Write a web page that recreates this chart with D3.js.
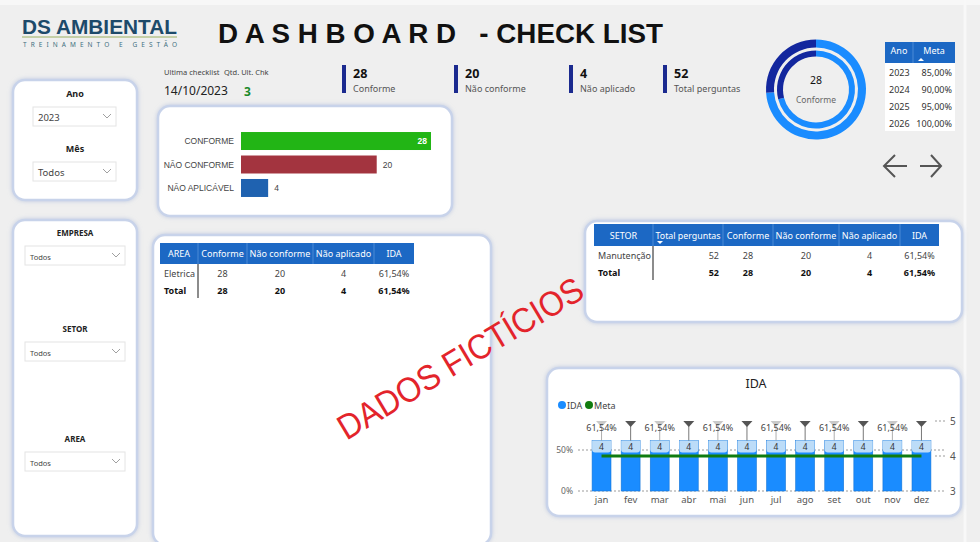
<!DOCTYPE html>
<html><head><meta charset="utf-8">
<script src="https://cdn.jsdelivr.net/npm/d3@7"></script>
<style>
html,body{margin:0;padding:0;background:#efefef;}
svg{display:block;font-family:"Noto Sans","Open Sans",sans-serif;}
</style></head>
<body><svg id="c" width="980" height="542"></svg>
<script>
// ---------- DATA ----------
const kpiLabels = ["Conforme", "Não conforme", "Não aplicado", "Total perguntas"];
const kpiValues = [28, 20, 4, 52];
const lastChecklistDate = "14/10/2023";
const lastChecklistQty = 3;

const barCategories = ["CONFORME", "NÃO CONFORME", "NÃO APLICÁVEL"];
const barValues = [28, 20, 4];

const donutCenterValue = 28;
const donutCenterLabel = "Conforme";
const donutOuterValues = [74, 26];
const donutInnerValues = [71, 29];

const metaYears = ["2023", "2024", "2025", "2026"];
const metaGoals = ["85,00%", "90,00%", "95,00%", "100,00%"];

const areaHeaders = ["AREA", "Conforme", "Não conforme", "Não aplicado", "IDA"];
const areaRows = [["Eletrica", "28", "20", "4", "61,54%"], ["Total", "28", "20", "4", "61,54%"]];

const setorHeaders = ["SETOR", "Total perguntas", "Conforme", "Não conforme", "Não aplicado", "IDA"];
const setorRows = [["Manutenção", "52", "28", "20", "4", "61,54%"], ["Total", "52", "28", "20", "4", "61,54%"]];

const months = ["jan", "fev", "mar", "abr", "mai", "jun", "jul", "ago", "set", "out", "nov", "dez"];
const idaValues = [0.6154, 0.6154, 0.6154, 0.6154, 0.6154, 0.6154, 0.6154, 0.6154, 0.6154, 0.6154, 0.6154, 0.6154];
const qtdValues = [4, 4, 4, 4, 4, 4, 4, 4, 4, 4, 4, 4];
const metaSeries = [4, 4, 4, 4, 4, 4, 4, 4, 4, 4, 4, 4];
const markerValues = [5, 5, 5, 5, 5, 5, 5, 5, 5, 5, 5, 5];
const leftTicks = [0, 0.5];
const rightTicks = [3, 4, 5];

const slicers1 = [["Ano", "2023"], ["Mês", "Todos"]];
const slicers2 = [["EMPRESA", "Todos"], ["SETOR", "Todos"], ["AREA", "Todos"]];

// ---------- DRAW ----------
const svg = d3.select("#c");
const defs = svg.append("defs");
const f = defs.append("filter").attr("id", "sh").attr("x", "-10%").attr("y", "-10%").attr("width", "120%").attr("height", "120%");
f.append("feDropShadow").attr("dx", 0).attr("dy", 0).attr("stdDeviation", 2).attr("flood-color", "#9fb0d6").attr("flood-opacity", 0.6);

svg.append("rect").attr("width", 980).attr("height", 542).attr("fill", "#efefef");
svg.append("rect").attr("width", 980).attr("height", 5).attr("fill", "#f7f7f7");
svg.append("line").attr("x1", 965).attr("x2", 965).attr("y1", 0).attr("y2", 542).attr("stroke", "#f8f8f8").attr("stroke-width", 3);

function panel(x, y, w, h) {
  svg.append("rect").attr("x", x).attr("y", y).attr("width", w).attr("height", h)
    .attr("rx", 12).attr("fill", "#fff").attr("stroke", "#c8d3ea").attr("stroke-width", 2.5)
    .attr("filter", "url(#sh)");
}
function fit(sel, maxW) {
  const n = sel.node();
  if (n.getComputedTextLength() > maxW) sel.attr("textLength", maxW).attr("lengthAdjust", "spacingAndGlyphs");
  return sel;
}

// Logo
svg.append("text").attr("x", 22).attr("y", 34).attr("font-family", "Liberation Sans, Arial")
  .attr("font-weight", "bold").attr("font-size", 21).attr("fill", "#1d4a6a")
  .attr("textLength", 155).attr("lengthAdjust", "spacingAndGlyphs").text("DS AMBIENTAL");
svg.append("line").attr("x1", 22).attr("x2", 177).attr("y1", 37).attr("y2", 37).attr("stroke", "#9bb060").attr("stroke-width", 1);
svg.append("text").attr("x", 23).attr("y", 46.5).attr("font-size", 6.5).attr("fill", "#3f6f80")
  .attr("textLength", 154).attr("lengthAdjust", "spacing").text("TREINAMENTO E GESTÃO");

// Title
svg.append("text").attr("x", 218).attr("y", 43).attr("font-family", "Liberation Sans, Arial")
  .attr("font-weight", "bold").attr("font-size", 27).attr("fill", "#111")
  .attr("textLength", 445).attr("lengthAdjust", "spacingAndGlyphs").attr("xml:space", "preserve")
  .text("D A S H B O A R D   - CHECK LIST");

// Last checklist
svg.append("text").attr("x", 164).attr("y", 75).attr("font-size", 7.5).attr("fill", "#444").text("Ultima checklist");
svg.append("text").attr("x", 224).attr("y", 75).attr("font-size", 7.5).attr("fill", "#444").text("Qtd. Ult. Chk");
svg.append("text").attr("x", 164).attr("y", 95).attr("font-size", 12).attr("fill", "#222").text(lastChecklistDate);
svg.append("text").attr("x", 244).attr("y", 96).attr("font-size", 12).attr("font-weight", "bold").attr("fill", "#1a8a2a").text(lastChecklistQty);

// KPI cards
const kpiX = [342, 454, 569, 663];
kpiLabels.forEach((l, i) => {
  svg.append("rect").attr("x", kpiX[i]).attr("y", 65).attr("width", 4).attr("height", 28).attr("fill", "#1b2a8f");
  svg.append("text").attr("x", kpiX[i] + 11).attr("y", 78).attr("font-size", 12.5).attr("font-weight", "bold").attr("fill", "#111").text(kpiValues[i]);
  svg.append("text").attr("x", kpiX[i] + 11).attr("y", 92).attr("font-size", 9).attr("fill", "#555").text(l);
});

// Donut
const dg = svg.append("g").attr("transform", "translate(816,89.5)");
const pie = d3.pie().sort(null);
const donutColors = ["#1a8cff", "#13279e"];
dg.selectAll(".o").data(pie(donutOuterValues)).join("path")
  .attr("d", d3.arc().innerRadius(42).outerRadius(50)).attr("fill", (d, i) => donutColors[i]);
dg.selectAll(".in").data(pie(donutInnerValues)).join("path")
  .attr("d", d3.arc().innerRadius(33).outerRadius(39)).attr("fill", (d, i) => donutColors[i]);
dg.append("text").attr("y", -6).attr("text-anchor", "middle").attr("font-size", 10.5).attr("fill", "#111").text(donutCenterValue);
dg.append("text").attr("y", 13).attr("text-anchor", "middle").attr("font-size", 8.5).attr("fill", "#666").text(donutCenterLabel);

// Meta table
svg.append("rect").attr("x", 885).attr("y", 63).attr("width", 70).attr("height", 68).attr("fill", "#fff");
svg.append("rect").attr("x", 885).attr("y", 42).attr("width", 70).attr("height", 21).attr("fill", "#1c68c4");
svg.append("line").attr("x1", 913).attr("x2", 913).attr("y1", 42).attr("y2", 63).attr("stroke", "#4a8ad6");
svg.append("text").attr("x", 899).attr("y", 54).attr("text-anchor", "middle").attr("font-size", 9).attr("fill", "#fff").text("Ano");
svg.append("text").attr("x", 934).attr("y", 54).attr("text-anchor", "middle").attr("font-size", 9).attr("fill", "#fff").text("Meta");
svg.append("path").attr("d", "M918,61 L921,58 L924,61 Z").attr("fill", "#fff");
metaYears.forEach((y, i) => {
  svg.append("text").attr("x", 889).attr("y", 76 + i * 17).attr("font-size", 9).attr("fill", "#333").text(y);
  svg.append("text").attr("x", 952).attr("y", 76 + i * 17).attr("text-anchor", "end").attr("font-size", 9).attr("fill", "#333").text(metaGoals[i]);
});

// Arrows
const arr = svg.append("g").attr("stroke", "#555").attr("stroke-width", 2).attr("fill", "none");
arr.append("path").attr("d", "M884,166 L907,166 M895,155 L884,166 L895,177");
arr.append("path").attr("d", "M920,166 L941,166 M931,155 L941,166 L931,177");

// Slicer panels
panel(13, 80, 124, 120);
panel(13, 220, 124, 316);
function slicer(cx, ly, label, value, bx, bw, fs) {
  svg.append("text").attr("x", cx).attr("y", ly).attr("text-anchor", "middle").attr("font-size", fs)
    .attr("font-weight", "bold").attr("fill", "#222").text(label);
  const by = ly + 10;
  svg.append("rect").attr("x", bx).attr("y", by).attr("width", bw).attr("height", 19).attr("fill", "#fff").attr("stroke", "#e4e4e4");
  svg.append("text").attr("x", bx + 5).attr("y", by + 13.5).attr("font-size", fs === 9 ? 9.5 : 7.5).attr("fill", "#444").text(value);
  svg.append("path").attr("d", `M${bx + bw - 13},${by + 7} L${bx + bw - 9},${by + 11} L${bx + bw - 5},${by + 7}`)
    .attr("fill", "none").attr("stroke", "#888").attr("stroke-width", 0.8);
}
slicer(75, 97, slicers1[0][0], slicers1[0][1], 33, 83, 9);
slicer(75, 152, slicers1[1][0], slicers1[1][1], 33, 83, 9);
const s2y = [236, 332, 442];
slicers2.forEach((s, i) => slicer(75, s2y[i], s[0], s[1], 25, 100, 8));

// Bar chart panel
panel(158, 106, 294, 110);
const bx = d3.scaleLinear().domain([0, 28]).range([241, 431]);
const by = d3.scaleBand().domain(barCategories).range([128.5, 200.5]).paddingInner(0.234).paddingOuter(0.15);
const barColors = ["#22b515", "#a3343f", "#1f62b0"];
barCategories.forEach((c, i) => {
  svg.append("rect").attr("x", bx(0)).attr("y", by(c)).attr("width", bx(barValues[i]) - bx(0)).attr("height", by.bandwidth()).attr("fill", barColors[i]);
  svg.append("text").attr("x", 234).attr("y", by(c) + by.bandwidth() / 2 + 3).attr("text-anchor", "end")
    .attr("font-family", "Liberation Sans, Arial").attr("font-size", 8.5).attr("fill", "#444").text(c);
  const inside = i === 0;
  svg.append("text").attr("x", inside ? bx(barValues[i]) - 4 : bx(barValues[i]) + 6).attr("y", by(c) + by.bandwidth() / 2 + 3)
    .attr("text-anchor", inside ? "end" : "start").attr("font-family", "Liberation Sans, Arial")
    .attr("font-size", 8.5).attr("font-weight", inside ? "bold" : "normal").attr("fill", inside ? "#fff" : "#444").text(barValues[i]);
});

// Table helper
function table(x0, y0, widths, headers, rows, hh, rowBase, rowStep, aligns, sortCol) {
  const tot = d3.sum(widths);
  svg.append("rect").attr("x", x0).attr("y", y0).attr("width", tot).attr("height", hh).attr("fill", "#1c68c4");
  let xs = [x0];
  widths.forEach(w => xs.push(xs[xs.length - 1] + w));
  headers.forEach((h, i) => {
    if (i > 0) svg.append("line").attr("x1", xs[i]).attr("x2", xs[i]).attr("y1", y0).attr("y2", y0 + hh).attr("stroke", "#4a8ad6");
    const t = svg.append("text").attr("x", (xs[i] + xs[i + 1]) / 2).attr("y", y0 + hh / 2 + 3.5).attr("text-anchor", "middle")
      .attr("font-size", 9).attr("fill", "#fff").text(h);
    fit(t, widths[i] - 5);
  });
  if (sortCol != null) {
    const sx = xs[sortCol] + 7;
    svg.append("path").attr("d", `M${sx - 3},${y0 + hh - 5} L${sx + 3},${y0 + hh - 5} L${sx},${y0 + hh - 2} Z`).attr("fill", "#fff");
  }
  svg.append("line").attr("x1", xs[1]).attr("x2", xs[1]).attr("y1", y0 + hh).attr("y2", y0 + hh + 34).attr("stroke", "#666").attr("stroke-width", 1.5);
  rows.forEach((r, ri) => {
    r.forEach((v, ci) => {
      let tx, anchor;
      if (ci === 0) { tx = xs[0] + 4; anchor = "start"; }
      else if (aligns[ci] === "end") { tx = xs[ci + 1] - 4; anchor = "end"; }
      else { tx = (xs[ci] + xs[ci + 1]) / 2; anchor = "middle"; }
      svg.append("text").attr("x", tx).attr("y", rowBase + ri * rowStep).attr("text-anchor", anchor)
        .attr("font-size", 9).attr("font-weight", ri === rows.length - 1 ? "bold" : "normal")
        .attr("fill", ri === rows.length - 1 ? "#111" : "#444").text(v);
    });
  });
}

// Area table
panel(153, 235, 338, 310);
table(160, 243, [38, 49, 66, 61, 40], areaHeaders, areaRows, 21, 277, 16.5, ["s", "m", "m", "m", "m"], null);

// Setor table
panel(585, 221, 377, 101);
table(594, 224, [59, 70, 50, 66, 61, 39], setorHeaders, setorRows, 22, 259, 16.5, ["s", "end", "m", "m", "m", "m"], 1);

// IDA chart
panel(547, 368, 414, 148);
svg.append("text").attr("x", 756).attr("y", 388).attr("text-anchor", "middle").attr("font-size", 12.5).attr("fill", "#222").text("IDA");
svg.append("circle").attr("cx", 562).attr("cy", 405).attr("r", 4).attr("fill", "#1a8cff");
svg.append("text").attr("x", 567).attr("y", 408.5).attr("font-size", 9).attr("fill", "#444").text("IDA");
svg.append("circle").attr("cx", 589).attr("cy", 405).attr("r", 4).attr("fill", "#107c10");
svg.append("text").attr("x", 594).attr("y", 408.5).attr("font-size", 9).attr("fill", "#444").text("Meta");

const x = d3.scaleBand().domain(months).range([587, 936]).paddingInner(0.35).paddingOuter(0.175);
const yL = d3.scaleLinear().domain([0, 1]).range([491, 409]);
const yR = d3.scaleLinear().domain([3, 5]).range([491, 421]);

leftTicks.forEach(t => {
  svg.append("line").attr("x1", 578).attr("x2", 944).attr("y1", yL(t)).attr("y2", yL(t))
    .attr("stroke", "#bdbdbd").attr("stroke-width", 1.5).attr("stroke-dasharray", "2,2");
  svg.append("text").attr("x", 573).attr("y", yL(t) + 3).attr("text-anchor", "end").attr("font-size", 8.5).attr("fill", "#666").text(d3.format(".0%")(t));
});
rightTicks.forEach(t => {
  if (t !== 3) svg.append("line").attr("x1", 935).attr("x2", 945).attr("y1", yR(t)).attr("y2", yR(t))
    .attr("stroke", "#bdbdbd").attr("stroke-width", 1.5).attr("stroke-dasharray", "2,2");
  svg.append("text").attr("x", 950).attr("y", yR(t) + 4).attr("font-size", 10).attr("fill", "#555").text(t);
});

months.forEach((m, i) => {
  const bx0 = x(m), bw = x.bandwidth(), cx = bx0 + bw / 2;
  const top = yL(idaValues[i]);
  svg.append("rect").attr("x", bx0).attr("y", top).attr("width", bw).attr("height", yL(0) - top).attr("fill", "#1a8cff").attr("stroke", "#1576d8").attr("stroke-width", 0.6);
  svg.append("path").attr("d", `M${bx0},${top} h${bw} v9 q0,3 -3,3 h${-(bw - 6)} q-3,0 -3,-3 Z`).attr("fill", "#bcdcf8");
  svg.append("text").attr("x", cx).attr("y", top + 9.5).attr("text-anchor", "middle").attr("font-size", 8.5).attr("fill", "#333").text(qtdValues[i]);
  const my = yR(markerValues[i]);
  const dark = i % 2 === 1;
  svg.append("line").attr("x1", cx).attr("x2", cx).attr("y1", my + 5).attr("y2", top).attr("stroke", dark ? "#555" : "#999").attr("stroke-width", 0.8);
  svg.append("path").attr("d", `M${cx - 5.5},${my} L${cx + 5.5},${my} L${cx},${my + 6} Z`).attr("fill", dark ? "#555" : "#c9c9c9");
  if (!dark) svg.append("text").attr("x", cx).attr("y", 431).attr("text-anchor", "middle").attr("font-size", 9).attr("fill", "#444")
    .text(d3.format(".2%")(idaValues[i]).replace(".", ","));
  svg.append("text").attr("x", cx).attr("y", 503).attr("text-anchor", "middle").attr("font-size", 9.5).attr("fill", "#555").text(m);
});
svg.append("path").datum(metaSeries)
  .attr("d", d3.line().x((d, i) => x(months[i]) + x.bandwidth() / 2).y(d => yR(d)))
  .attr("fill", "none").attr("stroke", "#107c10").attr("stroke-width", 3);

// Watermark
svg.append("text").attr("transform", "translate(460,358) rotate(-31)").attr("text-anchor", "middle")
  .attr("dominant-baseline", "central").attr("font-family", "Liberation Sans, Arial").attr("font-size", 35)
  .attr("fill", "#e3242b").attr("textLength", 280).attr("lengthAdjust", "spacingAndGlyphs").text("DADOS FICTÍCIOS");
</script></body></html>
